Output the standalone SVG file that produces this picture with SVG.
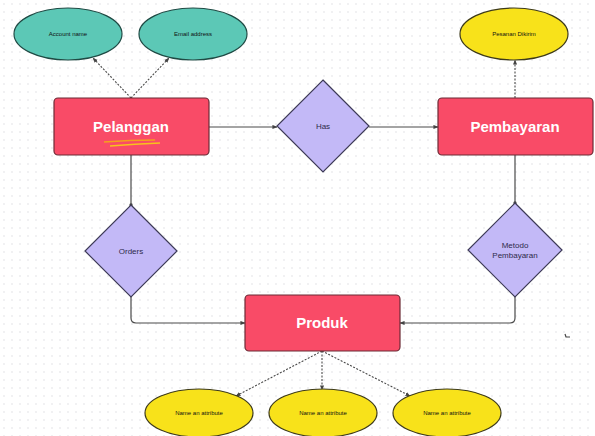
<svg xmlns="http://www.w3.org/2000/svg" width="595" height="436" viewBox="0 0 595 436">
  <defs>
    <pattern id="dots" x="0" y="0" width="8" height="8" patternUnits="userSpaceOnUse">
      <circle cx="4" cy="4" r="0.9" fill="#ebebed"/>
    </pattern>
    <marker id="arr" viewBox="0 0 6 6" refX="5.5" refY="3" markerWidth="5" markerHeight="5" orient="auto" markerUnits="userSpaceOnUse">
      <path d="M0,0.5 L6,3 L0,5.5 z" fill="#444"/>
    </marker>
    <marker id="dot" viewBox="0 0 6 6" refX="3" refY="3" markerWidth="4" markerHeight="4" markerUnits="userSpaceOnUse">
      <circle cx="3" cy="3" r="2.5" fill="#444"/>
    </marker>
  </defs>
  <style>
    .ent { fill: #f94b67; stroke: #6b2a35; stroke-width: 1.2; }
    .entt { font-family: "Liberation Sans", Arial, sans-serif; font-weight: bold; font-size: 15px; fill: #ffffff; text-anchor: middle; }
    .rel { fill: #c3b9f7; stroke: #3d3a57; stroke-width: 1.2; }
    .relt { font-family: "Liberation Sans", Arial, sans-serif; font-size: 8px; fill: #2e2b4a; text-anchor: middle; }
    .teal { fill: #5cc8b6; stroke: #1f4a44; stroke-width: 1.2; }
    .yel { fill: #f8e21a; stroke: #3d3a1a; stroke-width: 1.2; }
    .attt { font-family: "Liberation Sans", Arial, sans-serif; font-size: 6px; fill: #111; text-anchor: middle; }
    .solid { fill: none; stroke: #4a4a4a; stroke-width: 1.2; }
    .dash { fill: none; stroke: #4a4a4a; stroke-width: 1.1; stroke-dasharray: 2 1.5; }
  </style>
  <rect width="595" height="436" fill="#ffffff"/>
  <rect width="595" height="436" fill="url(#dots)"/>

  <g id="connectors">
    <path class="dash" d="M131,98 L93,58" marker-end="url(#arr)"/>
    <path class="dash" d="M131,98 L169,58" marker-end="url(#arr)"/>
    <path class="solid" d="M209,127 L277,127" marker-end="url(#arr)"/>
    <path class="solid" d="M369,127 L438,127" marker-end="url(#arr)"/>
    <path class="dash" d="M515,98 L515,60" marker-end="url(#arr)"/>
    <path class="solid" d="M131,155 L131,205" marker-end="url(#dot)"/>
    <path class="solid" d="M131,297 L131,318 Q131,323 136,323 L245,323" marker-end="url(#arr)"/>
    <path class="solid" d="M515,155 L515,203" marker-end="url(#dot)"/>
    <path class="solid" d="M515,297 L515,318 Q515,323 510,323 L400,323" marker-end="url(#arr)"/>
    <path class="dash" d="M322,351 L236,396" marker-end="url(#arr)"/>
    <path class="dash" d="M322,351 L322,390" marker-end="url(#arr)"/>
    <path class="dash" d="M322,351 L410,396" marker-end="url(#arr)"/>
  </g>

  <g id="account-name">
    <ellipse class="teal" cx="68" cy="34" rx="54" ry="26"/>
    <text class="attt" x="68" y="36">Account name</text>
  </g>
  <g id="email-address">
    <ellipse class="teal" cx="193" cy="34" rx="54" ry="26"/>
    <text class="attt" x="193" y="36">Email address</text>
  </g>
  <g id="pesanan-dikirim">
    <ellipse class="yel" cx="514" cy="34" rx="54" ry="26"/>
    <text class="attt" x="514" y="36">Pesanan Dikirim</text>
  </g>

  <g id="pelanggan">
    <rect class="ent" x="54" y="98" width="155" height="57" rx="4"/>
    <text class="entt" x="131" y="132">Pelanggan</text>
    <path d="M104,142 Q130,140 155,140" fill="none" stroke="#f5a01c" stroke-width="1.6"/>
    <path d="M110,146 Q135,144 160,143" fill="none" stroke="#f7c21c" stroke-width="1.6"/>
  </g>
  <g id="pembayaran">
    <rect class="ent" x="438" y="98" width="155" height="57" rx="4"/>
    <text class="entt" x="515" y="132">Pembayaran</text>
  </g>
  <g id="produk">
    <rect class="ent" x="245" y="295" width="155" height="56" rx="4"/>
    <text class="entt" x="322" y="328">Produk</text>
  </g>

  <g id="has">
    <path class="rel" d="M323,80 L369,126 L323,172 L277,126 Z"/>
    <text class="relt" x="323" y="129">Has</text>
  </g>
  <g id="orders">
    <path class="rel" d="M131,205 L177,251 L131,297 L85,251 Z"/>
    <text class="relt" x="131" y="254">Orders</text>
  </g>
  <g id="metodo-pembayaran">
    <path class="rel" d="M515,203 L562,250 L515,297 L468,250 Z"/>
    <text class="relt" x="515" y="248">Metodo</text>
    <text class="relt" x="515" y="258">Pembayaran</text>
  </g>

  <g id="attr-1">
    <ellipse class="yel" cx="199" cy="413" rx="54" ry="24"/>
    <text class="attt" x="199" y="415">Name an attribute</text>
  </g>
  <g id="attr-2">
    <ellipse class="yel" cx="323" cy="413" rx="54" ry="24"/>
    <text class="attt" x="323" y="415">Name an attribute</text>
  </g>
  <g id="attr-3">
    <ellipse class="yel" cx="447" cy="413" rx="54" ry="24"/>
    <text class="attt" x="447" y="415">Name an attribute</text>
  </g>

  <path d="M565,334 L566,337 L570,337" fill="none" stroke="#444" stroke-width="1.2"/>
</svg>
